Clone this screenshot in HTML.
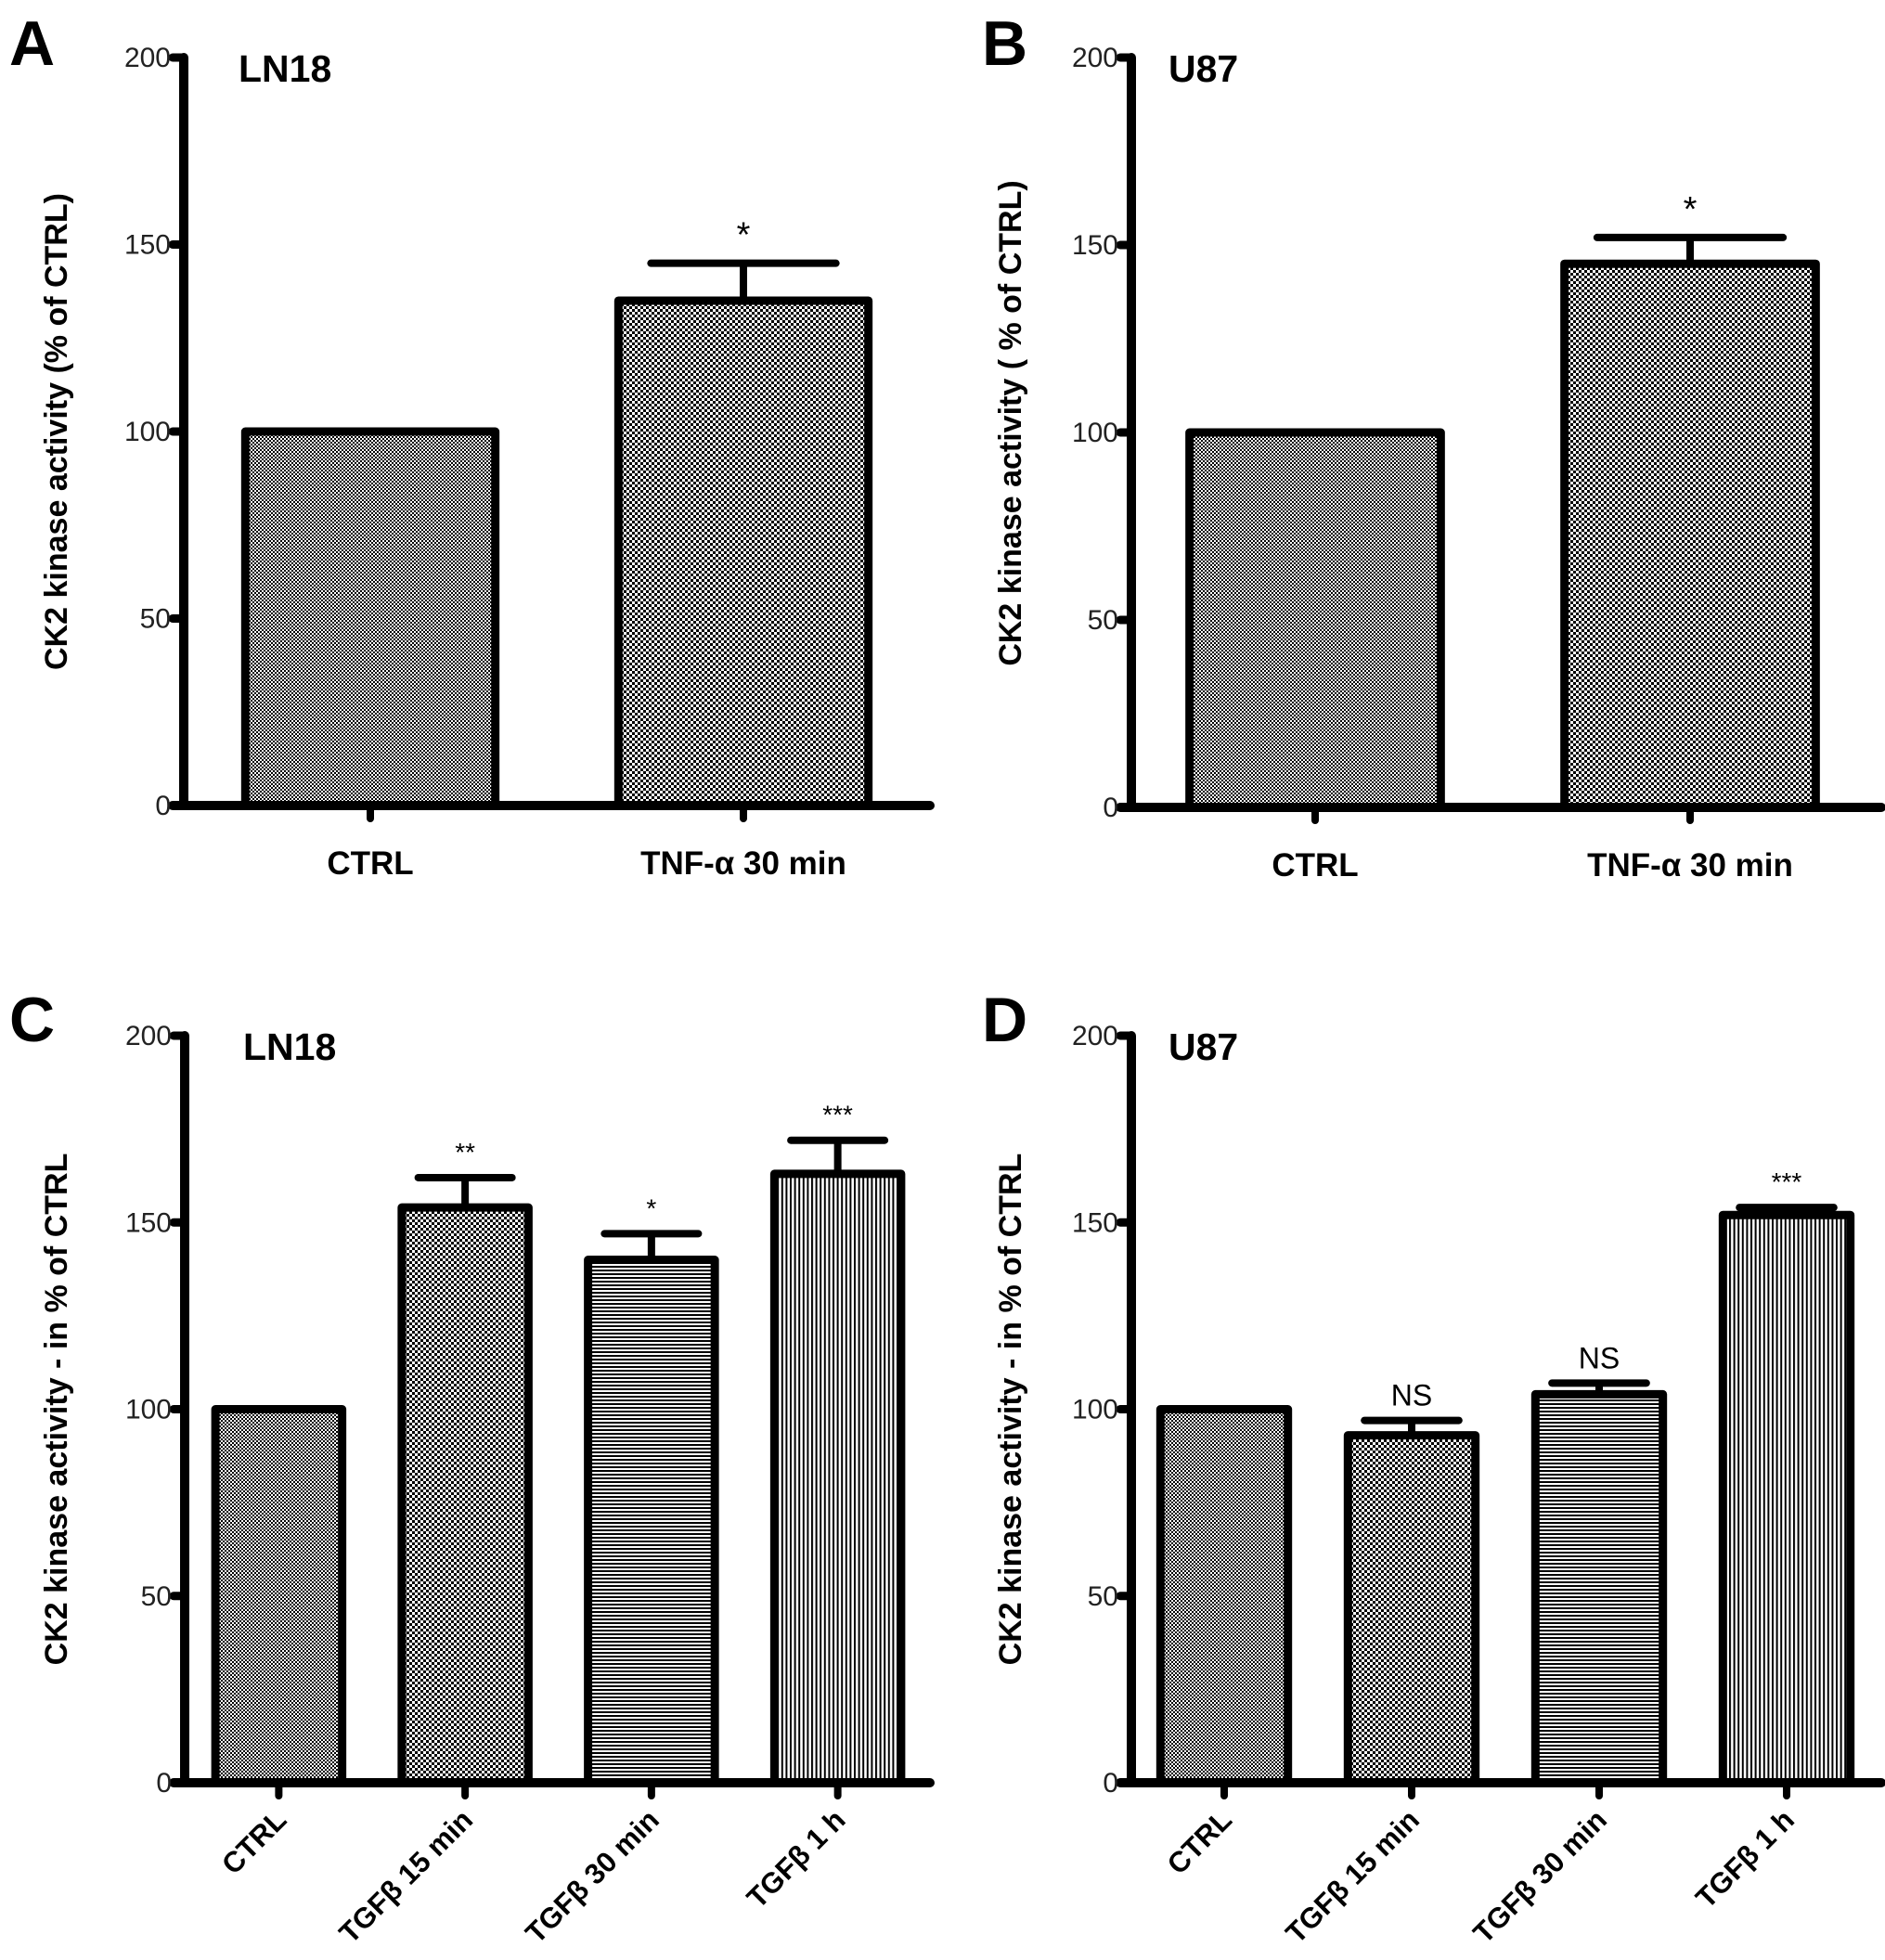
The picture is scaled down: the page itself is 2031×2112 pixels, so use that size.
<!DOCTYPE html>
<html><head><meta charset="utf-8">
<style>
html,body{margin:0;padding:0;background:#fff;}
svg{display:block;}
text{font-family:"Liberation Sans",sans-serif;}
</style></head>
<body>
<svg id="fig" width="2031" height="2112" viewBox="0 0 2031 2112" xmlns="http://www.w3.org/2000/svg">
<defs>
<pattern id="pFine" width="4" height="4" patternUnits="userSpaceOnUse"><rect width="4" height="4" fill="#fff"/><rect width="2" height="2" fill="#000"/><rect x="2" y="2" width="2" height="2" fill="#000"/></pattern>
<pattern id="pCheck" width="6" height="6" patternUnits="userSpaceOnUse"><rect width="6" height="6" fill="#fff"/><rect width="3" height="3" fill="#000"/><rect x="3" y="3" width="3" height="3" fill="#000"/></pattern>
<pattern id="pHoriz" width="4" height="4" patternUnits="userSpaceOnUse"><rect width="4" height="4" fill="#fff"/><rect width="4" height="2" fill="#000"/></pattern>
<pattern id="pVert" width="4.6" height="4" patternUnits="userSpaceOnUse"><rect width="4.6" height="4" fill="#fff"/><rect width="2" height="4" fill="#000"/></pattern>
</defs>
</svg>
<script>
// Panel A data
const catsA = ["CTRL", "TNF-α 30 min"];
const valsA = [100, 135];
const errsA = [0, 145];
const sigA = ["", "*"];
// Panel B data
const catsB = ["CTRL", "TNF-α 30 min"];
const valsB = [100, 145];
const errsB = [0, 152];
const sigB = ["", "*"];
// Panel C data
const catsC = ["CTRL", "TGFβ 15 min", "TGFβ 30 min", "TGFβ 1 h"];
const valsC = [100, 154, 140, 163];
const errsC = [0, 162, 147, 172];
const sigC = ["", "**", "*", "***"];
// Panel D data
const catsD = ["CTRL", "TGFβ 15 min", "TGFβ 30 min", "TGFβ 1 h"];
const valsD = [100, 93, 104, 152];
const errsD = [0, 97, 107, 154];
const sigD = ["", "NS", "NS", "***"];
const yTicks = [0, 50, 100, 150, 200];

const svg = document.getElementById('fig');
const NS = 'http://www.w3.org/2000/svg';
function mk(tag, attrs, parent){
  const e = document.createElementNS(NS, tag);
  for (const k in attrs) e.setAttribute(k, attrs[k]);
  (parent||svg).appendChild(e);
  return e;
}

function panel(o){
  const g = mk('g', {});
  
  
  const y = v => o.y0 - (v/200)*(o.y0 - o.y200);
  const n = o.cats.length;
  const step = (o.xEnd - o.axX) / n;
  const cx = i => o.axX + step*(i+0.5) + o.shift;
  const bw = step * o.bwFrac;
  const L = mk('text', {x:o.letterX, y:o.letterY, 'font-size':68, 'font-weight':'bold'}, g);
  L.textContent = o.letter;
  
  
  const T = mk('text', {x:o.titleX, y:o.y200+26, 'font-size':41, 'font-weight':'bold'}, g);
  T.textContent = o.title;
  
  
  o.vals.forEach((v,i)=>{
    const x = cx(i) - bw/2;
    const r = mk('rect', {x:x, y:y(v), width:bw, height:o.y0 - y(v), fill:'url(#'+o.pats[i]+')', stroke:'#000', 'stroke-width':9, 'stroke-linejoin':'round'}, g);
    
    
    if (o.errs[i] > v){
      const e1 = mk('line', {x1:cx(i), x2:cx(i), y1:y(v), y2:y(o.errs[i]), stroke:'#000', 'stroke-width':8}, g);
      
      
      const e2 = mk('line', {x1:cx(i)-bw*0.37, x2:cx(i)+bw*0.37, y1:y(o.errs[i]), y2:y(o.errs[i]), stroke:'#000', 'stroke-width':8, 'stroke-linecap':'round'}, g);
      
      
    }
    if (o.sig[i]){
      const isNS = o.sig[i] === 'NS';
      const s = mk('text', {x:cx(i), y:y(Math.max(o.errs[i], v)) - (isNS?16:18), 'font-size': isNS?32:(o.rot?28:38), 'text-anchor':'middle'}, g);
      s.textContent = o.sig[i];
      
      
    }
    const tk = mk('line', {x1:cx(i), x2:cx(i), y1:o.y0, y2:o.y0+14, stroke:'#000', 'stroke-width':8, 'stroke-linecap':'round'}, g);
    
    
    let lab;
    if (o.rot){
      lab = mk('text', {x:cx(i)+10, y:o.y0+42, 'font-size':31, 'font-weight':'bold', 'text-anchor':'end', transform:'rotate(-45 '+(cx(i)+10)+' '+(o.y0+42)+')'}, g);
    } else {
      lab = mk('text', {x:cx(i), y:o.y0+74, 'font-size':35, 'font-weight':'bold', 'text-anchor':'middle'}, g);
    }
    lab.textContent = o.cats[i];
    
    
  });
  const ya = mk('line', {x1:o.axX, x2:o.axX, y1:o.y200, y2:o.y0, stroke:'#000', 'stroke-width':10, 'stroke-linecap':'round'}, g);
  
  
  const xa = mk('line', {x1:o.axX-12, x2:o.xEnd, y1:o.y0, y2:o.y0, stroke:'#000', 'stroke-width':10, 'stroke-linecap':'round'}, g);
  
  
  yTicks.forEach(t=>{
    const l = mk('line', {x1:o.axX-12, x2:o.axX, y1:y(t), y2:y(t), stroke:'#000', 'stroke-width':9, 'stroke-linecap':'round'}, g);
    
    
    const tx = mk('text', {x:o.axX-14, y:y(t)+10, 'font-size':30, 'text-anchor':'end', fill:'#222'}, g);
    tx.textContent = t;
    
    
  });
  const cy = (o.y0 + o.y200)/2 + o.ytShift;
  const yt = mk('text', {x:o.ytX, y:cy, 'font-size':34, 'font-weight':'bold', 'text-anchor':'middle', transform:'rotate(-90 '+o.ytX+' '+cy+')'}, g);
  yt.textContent = o.ytitle;
  
  
}

panel({letter:'A', letterX:10, letterY:70, title:'LN18', titleX:257, axX:198, y0:868, y200:62, xEnd:1002, shift:0, bwFrac:0.67, ytShift:0,
  cats:catsA, vals:valsA, errs:errsA, sig:sigA, pats:['pFine','pCheck'], rot:false, ytX:72, ytitle:'CK2 kinase activity (% of CTRL)'});
panel({letter:'B', letterX:1058, letterY:70, title:'U87', titleX:1259, axX:1219, y0:870, y200:62, xEnd:2027, shift:-4, bwFrac:0.67, ytShift:-10,
  cats:catsB, vals:valsB, errs:errsB, sig:sigB, pats:['pFine','pCheck'], rot:false, ytX:1100, ytitle:'CK2 kinase activity ( % of CTRL)'});
panel({letter:'C', letterX:10, letterY:1122, title:'LN18', titleX:262, axX:199, y0:1921, y200:1116, xEnd:1002, shift:1, bwFrac:0.68, ytShift:0,
  cats:catsC, vals:valsC, errs:errsC, sig:sigC, pats:['pFine','pCheck','pHoriz','pVert'], rot:true, ytX:72, ytitle:'CK2 kinase activity - in % of CTRL'});
panel({letter:'D', letterX:1058, letterY:1122, title:'U87', titleX:1259, axX:1219, y0:1921, y200:1116, xEnd:2027, shift:-1, bwFrac:0.68, ytShift:0,
  cats:catsD, vals:valsD, errs:errsD, sig:sigD, pats:['pFine','pCheck','pHoriz','pVert'], rot:true, ytX:1100, ytitle:'CK2 kinase activity - in % of CTRL'});
</script>
</body></html>
